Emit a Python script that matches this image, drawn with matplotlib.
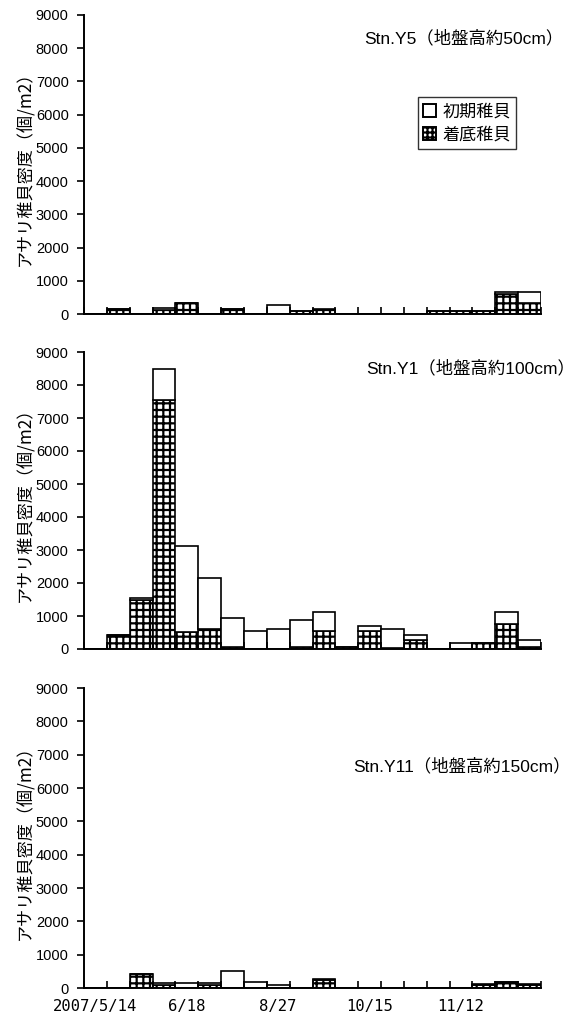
import matplotlib
matplotlib.use("Agg")
import matplotlib.pyplot as plt
from matplotlib.patches import Patch

DPI = 120
S = 100 / DPI  # keep pixel sizes as designed for 100 dpi

plt.rcParams['font.family'] = ['Liberation Sans', 'Noto Sans CJK JP', 'DejaVu Sans']
plt.rcParams['hatch.linewidth'] = 1.6 * S
plt.rcParams['hatch.color'] = 'black'

# 20 sampling occasions (category slots); only some are labelled on the axis
categories = ['2007/5/14', '', '', '', '6/18', '', '', '', '8/27', '', '', '',
              '10/15', '', '', '', '11/12', '', '', '']

stations = ['Stn.Y5（地盤高約50cm）', 'Stn.Y1（地盤高約100cm）', 'Stn.Y11（地盤高約150cm）']

# 着底稚貝 (settled juveniles)
y5_settled = [0, 150, 0, 110, 330, 0, 150, 0, 0, 80, 120, 0, 0, 0, 0, 80, 80, 80, 600, 330]
y1_settled = [0, 430, 1480, 7550, 520, 620, 50, 0, 0, 50, 540, 60, 550, 30, 280, 0, 0, 170, 770, 70]
y11_settled = [0, 0, 430, 100, 0, 100, 0, 0, 0, 0, 230, 0, 0, 0, 0, 0, 0, 90, 170, 100]

# 初期稚貝 (early juveniles)
y5_early = [0, 0, 0, 60, 0, 0, 0, 0, 260, 0, 30, 0, 0, 0, 0, 20, 20, 20, 70, 340]
y1_early = [0, 0, 80, 950, 2600, 1540, 900, 535, 600, 820, 590, 0, 150, 580, 150, 0, 170, 0, 360, 190]
y11_early = [0, 0, 0, 60, 150, 60, 515, 170, 100, 0, 30, 0, 0, 0, 0, 0, 0, 30, 0, 30]

settled = [y5_settled, y1_settled, y11_settled]
early = [y5_early, y1_early, y11_early]

W, H = 581, 1021
fig = plt.figure(figsize=(W / DPI, H / DPI), dpi=DPI)

left = 84 / W
width = 457 / W
panels = [(15, 314), (352, 649), (688, 988)]
title_pos = [(1.05, 0.923), (1.075, 0.946), (1.065, 0.74)]

jp = ['Noto Sans CJK JP', 'DejaVu Sans']
x = list(range(len(categories)))

for i, (top, bot) in enumerate(panels):
    ax = fig.add_axes([left, 1 - bot / H, width, (bot - top) / H])
    ax.bar(x, settled[i], width=1.0, align='edge', color='white',
           edgecolor='black', linewidth=1.2 * S, hatch='+++')
    ax.bar(x, early[i], width=1.0, align='edge', bottom=settled[i], color='white',
           edgecolor='black', linewidth=1.2 * S)
    ax.set_xlim(0, len(categories))
    ax.set_ylim(0, 9000)
    ax.set_yticks(range(0, 9001, 1000))
    ax.tick_params(axis='y', direction='out', length=5 * S, width=1.2 * S,
                   labelsize=10.5 * S, pad=6 * S)
    ax.set_xticks(range(0, len(categories) + 1))
    ax.set_xticklabels([])
    ax.tick_params(axis='x', which='major', direction='in', length=5 * S, width=1.2 * S)
    if i == 2:
        pos = [k + 0.5 for k, c in enumerate(categories) if c]
        labs = [c for c in categories if c]
        ax.set_xticks(pos, minor=True)
        ax.set_xticklabels(labs, minor=True, fontfamily=['DejaVu Sans Mono'], fontsize=11.2 * S)
        ax.tick_params(axis='x', which='minor', length=0, pad=8 * S)
    else:
        ax.tick_params(axis='x', which='minor', length=0)
    for s in ('top', 'right'):
        ax.spines[s].set_visible(False)
    for s in ('left', 'bottom'):
        ax.spines[s].set_linewidth(1.4 * S)
    ax.set_ylabel('アサリ稚貝密度（個/m2）', fontfamily=jp, fontsize=12.3 * S, labelpad=1)
    tx, ty = title_pos[i]
    ax.text(tx, ty, stations[i], transform=ax.transAxes, ha='right', va='center',
            fontsize=12.5 * S, clip_on=False)
    if i == 0:
        handles = [Patch(facecolor='white', edgecolor='black', linewidth=1.4 * S),
                   Patch(facecolor='white', edgecolor='black', linewidth=1.4 * S, hatch='++++')]
        leg = ax.legend(handles, ['初期稚貝', '着底稚貝'], loc='upper left',
                        bbox_to_anchor=(0.73, 0.725), prop={'family': jp, 'size': 12.3 * S},
                        frameon=True, fancybox=False, edgecolor='black',
                        handlelength=0.75, handleheight=0.75, handletextpad=0.4,
                        borderpad=0.3, labelspacing=0.3, borderaxespad=0)
        leg.get_frame().set_linewidth(1.0 * S)

fig.savefig('out.png', dpi=DPI)
